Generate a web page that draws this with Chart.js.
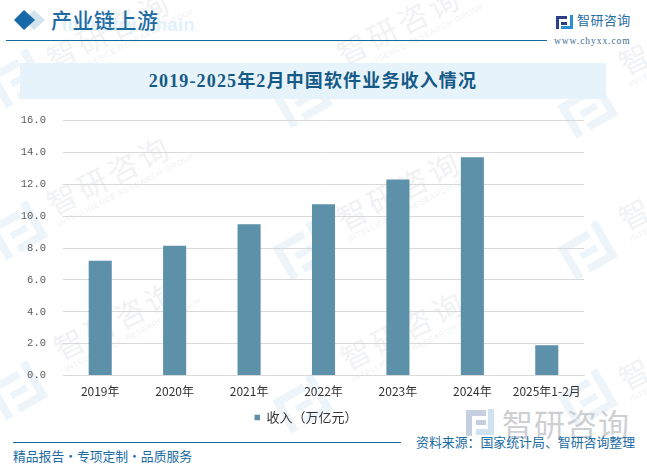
<!DOCTYPE html>
<html lang="zh">
<head>
<meta charset="utf-8">
<title>2019-2025年2月中国软件业务收入情况</title>
<script src="https://cdn.jsdelivr.net/npm/chart.js@4"></script>
<style>
  html, body { margin: 0; padding: 0; background: #fff; }
  #page { position: relative; width: 647px; height: 472px; overflow: hidden; font-family: "Noto Sans CJK SC", sans-serif; }
  #page div, #page svg { position: absolute; }
  canvas { position: absolute; left: 0; top: 0; }
  .wm { color: #f1f2f4; font-size: 30px; letter-spacing: 4px; white-space: nowrap; transform: rotate(-27deg); transform-origin: left top; }
  .wm span { display: block; font: 8px "Liberation Sans", sans-serif; letter-spacing: .6px; margin-top: -4px; }
  .line { background: #1769a0; height: 1px; }
  #head { left: 51px; top: 4px; font: 500 21px/34px "Liberation Serif", "Noto Sans CJK SC", serif; color: #1f6ca3; letter-spacing: .5px; }
  #ghost { left: 62px; top: 12px; font: 700 18px/26px "Liberation Sans", sans-serif; color: #e2f1fb; letter-spacing: .5px; }
  #band { left: 20px; top: 63px; width: 586px; height: 36px; background: #e6f3fb; }
  #title { left: 20px; top: 63px; width: 586px; text-align: center; font: 700 18px/36px "Liberation Serif", "Noto Sans CJK SC", serif; color: #155a86; letter-spacing: 1.15px; }
  #brand { left: 577px; top: 9px; font: 13px/22px "Noto Sans CJK SC", sans-serif; color: #1f6ca3; letter-spacing: .4px; }
  #url { left: 554px; top: 33px; font: 9.5px/16px "Liberation Serif", serif; color: #3f6f92; letter-spacing: .95px; }
  #bigbrand { left: 502px; top: 404px; font: 31px/38px "Noto Sans CJK SC", sans-serif; color: #cdcfd2; letter-spacing: 1px; white-space: nowrap; }
  #foot { left: 13px; top: 446px; font: 12.8px/20px "Noto Sans CJK SC", sans-serif; color: #1a6ba3; word-spacing: -2.9px; white-space: nowrap; }
  #source { left: 416px; top: 432px; font: 12.9px/20px "Noto Sans CJK SC", sans-serif; color: #1a6ba3; white-space: nowrap; }
</style>
</head>
<body>
<div id="page">
  <div class="wm" style="left:38px;top:40px">智研咨询<span>INTELLIGENCE RESEARCH GROUP</span></div>
  <div class="wm" style="left:328px;top:35px">智研咨询<span>INTELLIGENCE RESEARCH GROUP</span></div>
  <div class="wm" style="left:610px;top:45px">智研咨询<span>INTELLIGENCE RESEARCH GROUP</span></div>
  <div class="wm" style="left:38px;top:185px">智研咨询<span>INTELLIGENCE RESEARCH GROUP</span></div>
  <div class="wm" style="left:328px;top:200px">智研咨询<span>INTELLIGENCE RESEARCH GROUP</span></div>
  <div class="wm" style="left:610px;top:200px">智研咨询<span>INTELLIGENCE RESEARCH GROUP</span></div>
  <div class="wm" style="left:45px;top:330px">智研咨询<span>INTELLIGENCE RESEARCH GROUP</span></div>
  <div class="wm" style="left:332px;top:340px">智研咨询<span>INTELLIGENCE RESEARCH GROUP</span></div>
  <div class="wm" style="left:610px;top:360px">智研咨询<span>INTELLIGENCE RESEARCH GROUP</span></div>
  <svg width="647" height="472" style="left:0;top:0">
    <defs>
      <g id="wmlogo" fill="#edf4fa" transform="rotate(-30)">
        <rect x="-26" y="-20" width="34" height="8"/><rect x="-26" y="-20" width="8" height="38"/><rect x="-10" y="-4" width="18" height="7"/>
        <rect x="14" y="-24" width="8" height="42"/><rect x="-10" y="10" width="32" height="8"/>
      </g>
    </defs>
    <use href="#wmlogo" x="20" y="80"/>
    <use href="#wmlogo" x="20" y="232"/>
    <use href="#wmlogo" x="20" y="392"/>
    <use href="#wmlogo" x="305" y="100"/>
    <use href="#wmlogo" x="305" y="252"/>
    <use href="#wmlogo" x="305" y="405"/>
    <use href="#wmlogo" x="590" y="110"/>
    <use href="#wmlogo" x="590" y="252"/>
    <use href="#wmlogo" x="590" y="400"/>
    <!-- header diamonds -->
    <polygon points="34,10 45,20 34,30 23,20" fill="#d3e4ef"/>
    <polygon points="24,10 35,20 24,30 14,20" fill="#1769a8"/>
    <!-- small logo -->
    <g fill="#2b3f8f"><rect x="556" y="16" width="11" height="3"/><rect x="556" y="16" width="3" height="13"/><rect x="561" y="22" width="6" height="3"/></g>
    <g fill="#2a8fd6"><rect x="570" y="15" width="3" height="14"/><rect x="561" y="26" width="12" height="3"/></g>
    <!-- big logo -->
    <g fill="#c5cfdf"><rect x="466" y="410" width="20" height="6"/><rect x="466" y="410" width="6" height="26"/><rect x="476" y="420" width="10" height="5"/></g>
    <g fill="#cfe3f3"><rect x="488" y="409" width="6" height="26"/><rect x="476" y="429" width="18" height="6"/></g>
  </svg>
  <div id="ghost">Industry Chain</div>
  <div id="head">产业链上游</div>
  <div class="line" style="left:6px;top:40px;width:541px"></div>
  <div id="brand">智研咨询</div>
  <div id="url">www.chyxx.com</div>
  <div id="band"></div>
  <div id="title">2019-2025年2月中国软件业务收入情况</div>
  <div id="bigbrand">智研咨询</div>
  <div class="line" style="left:13px;top:442px;width:388px"></div>
  <div id="foot">精品报告 · 专项定制 · 品质服务</div>
  <div id="source">资料来源：国家统计局、智研咨询整理</div>
  <canvas id="chart" width="647" height="472"></canvas>
</div>
<script>
const categories = ['2019年', '2020年', '2021年', '2022年', '2023年', '2024年', '2025年1-2月'];
const revenue = [7.2, 8.15, 9.5, 10.75, 12.3, 13.7, 1.9];
const seriesName = '收入（万亿元）';
const yMax = 16;
const yStep = 2;

const cjkFamily = '"Noto Sans CJK SC", sans-serif';

// legend sits right of the plot centre in the original
const legendShift = {
  id: 'legendShift',
  afterLayout(chart) { chart.legend.left += 14; chart.legend.right += 14; }
};

new Chart(document.getElementById('chart'), {
  type: 'bar',
  data: {
    labels: categories,
    datasets: [{
      label: seriesName,
      data: revenue,
      backgroundColor: '#5d90a9',
      barPercentage: 0.31,
      categoryPercentage: 1
    }]
  },
  plugins: [legendShift],
  options: {
    responsive: false,
    animation: false,
    devicePixelRatio: 1,
    layout: { padding: { top: 120.5, right: 63, bottom: 38, left: 0 } },
    scales: {
      x: {
        grid: { display: false, drawTicks: false },
        border: { color: '#d9d9d9', width: 1 },
        ticks: { color: '#333', font: { family: cjkFamily, size: 12 }, padding: 9, maxRotation: 0, autoSkip: false }
      },
      y: {
        min: 0,
        max: yMax,
        afterFit: (scale) => { scale.width = 63; },
        grid: { color: '#d9d9d9', drawTicks: false },
        border: { display: false },
        ticks: {
          stepSize: yStep,
          color: '#595959',
          font: { family: '"Liberation Mono", monospace', size: 10.5 },
          padding: 17,
          callback: (v) => v.toFixed(1)
        }
      }
    },
    plugins: {
      legend: {
        position: 'bottom',
        labels: {
          usePointStyle: true,
          pointStyle: 'rect',
          boxWidth: 5.5,
          boxHeight: 5.5,
          color: '#333',
          font: { family: cjkFamily, size: 13 },
          padding: 3
        }
      },
      tooltip: { enabled: false }
    }
  }
});
</script>
</body>
</html>
